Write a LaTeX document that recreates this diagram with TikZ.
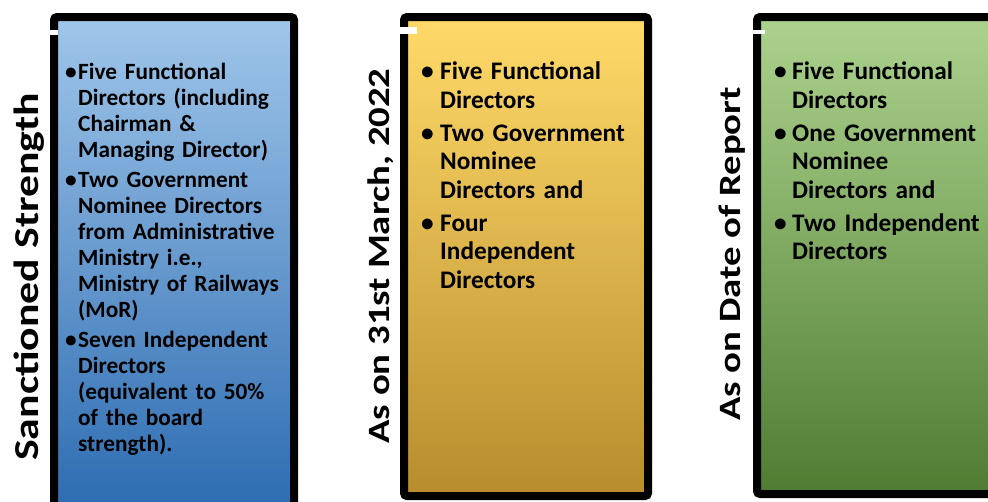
\documentclass[tikz,border=0pt]{standalone}
\usepackage{fontspec}
\usepackage{graphicx}
\setmainfont{Carlito}
\usetikzlibrary{positioning}
\definecolor{bluetop}{RGB}{160,198,234}
\definecolor{bluemid}{RGB}{92,152,212}
\definecolor{bluebot}{RGB}{42,106,176}
\definecolor{goldtop}{RGB}{255,218,105}
\definecolor{goldmid}{RGB}{255,194,20}
\definecolor{goldbot}{RGB}{184,140,45}
\definecolor{greentop}{RGB}{172,211,142}
\definecolor{greenmid}{RGB}{116,176,76}
\definecolor{greenbot}{RGB}{80,124,50}
\newcommand{\bitem}[2]{\hangindent=#1\hangafter=1\noindent\makebox[#1][l]{\textbullet}#2\par}
\newcommand{\longlabel}[1]{\scalebox{1.25}[1]{#1}}

\begin{document}
\begin{tikzpicture}[x=1pt,y=-1pt,
    panel/.style={line width=8pt, rounded corners=3pt},
    sidelabel/.style={rotate=90, anchor=base, font=\fontsize{31}{36}\selectfont\bfseries},
    smalllist/.style={anchor=north west, inner sep=0pt, text width=235pt, font=\fontsize{23.3}{26}\selectfont\bfseries},
    biglist/.style={anchor=north west, inner sep=0pt, text width=235pt, font=\fontsize{25.3}{28.5}\selectfont\bfseries}]
\useasboundingbox (0,0) rectangle (988,501);

% the three panels
\draw[panel, top color=bluetop, middle color=bluemid, bottom color=bluebot] (54,17) rectangle (294,520);
\draw[panel, top color=goldtop, middle color=goldmid, bottom color=goldbot] (404,17) rectangle (648,496);
\draw[panel, top color=greentop, middle color=greenmid, bottom color=greenbot] (757,17) rectangle (1010,494);
\fill[white] (50,30) rectangle (58,35);
\fill[white] (400,27) rectangle (417,34);
\fill[white] (753,30) rectangle (765,34);

% side labels
\node[sidelabel, font=\fontsize{35}{40}\selectfont\bfseries] (sanctioned) at (38,277) {\longlabel{Sanctioned Strength}};
\node[sidelabel] (march) at (389,256) {\longlabel{As on 31st March, 2022}};
\node[sidelabel] (report) at (740,254) {\longlabel{As on Date of Report}};

% lists
\node[smalllist] (sanctionedlist) at (65,63) {%
  \bitem{13pt}{Five Functional\newline Directors (including\newline Chairman \&\newline Managing Director)}\vspace{4pt}
  \bitem{13pt}{Two Government\newline Nominee Directors\newline from Administrative\newline Ministry i.e.,\newline Ministry of Railways\newline (MoR)}\vspace{4pt}
  \bitem{13pt}{Seven Independent\newline Directors\newline (equivalent to 50\%\newline of the board\newline strength).}};
\node[biglist] (marchlist) at (421,62) {%
  \bitem{19pt}{Five Functional\newline Directors}\vspace{4.5pt}
  \bitem{19pt}{Two Government\newline Nominee\newline Directors and}\vspace{4.5pt}
  \bitem{19pt}{Four\newline Independent\newline Directors}};
\node[biglist] (reportlist) at (774,62) {%
  \bitem{18pt}{Five Functional\newline Directors}\vspace{4.5pt}
  \bitem{18pt}{One Government\newline Nominee\newline Directors and}\vspace{4.5pt}
  \bitem{18pt}{Two Independent\newline Directors}};
\end{tikzpicture}
\end{document}
